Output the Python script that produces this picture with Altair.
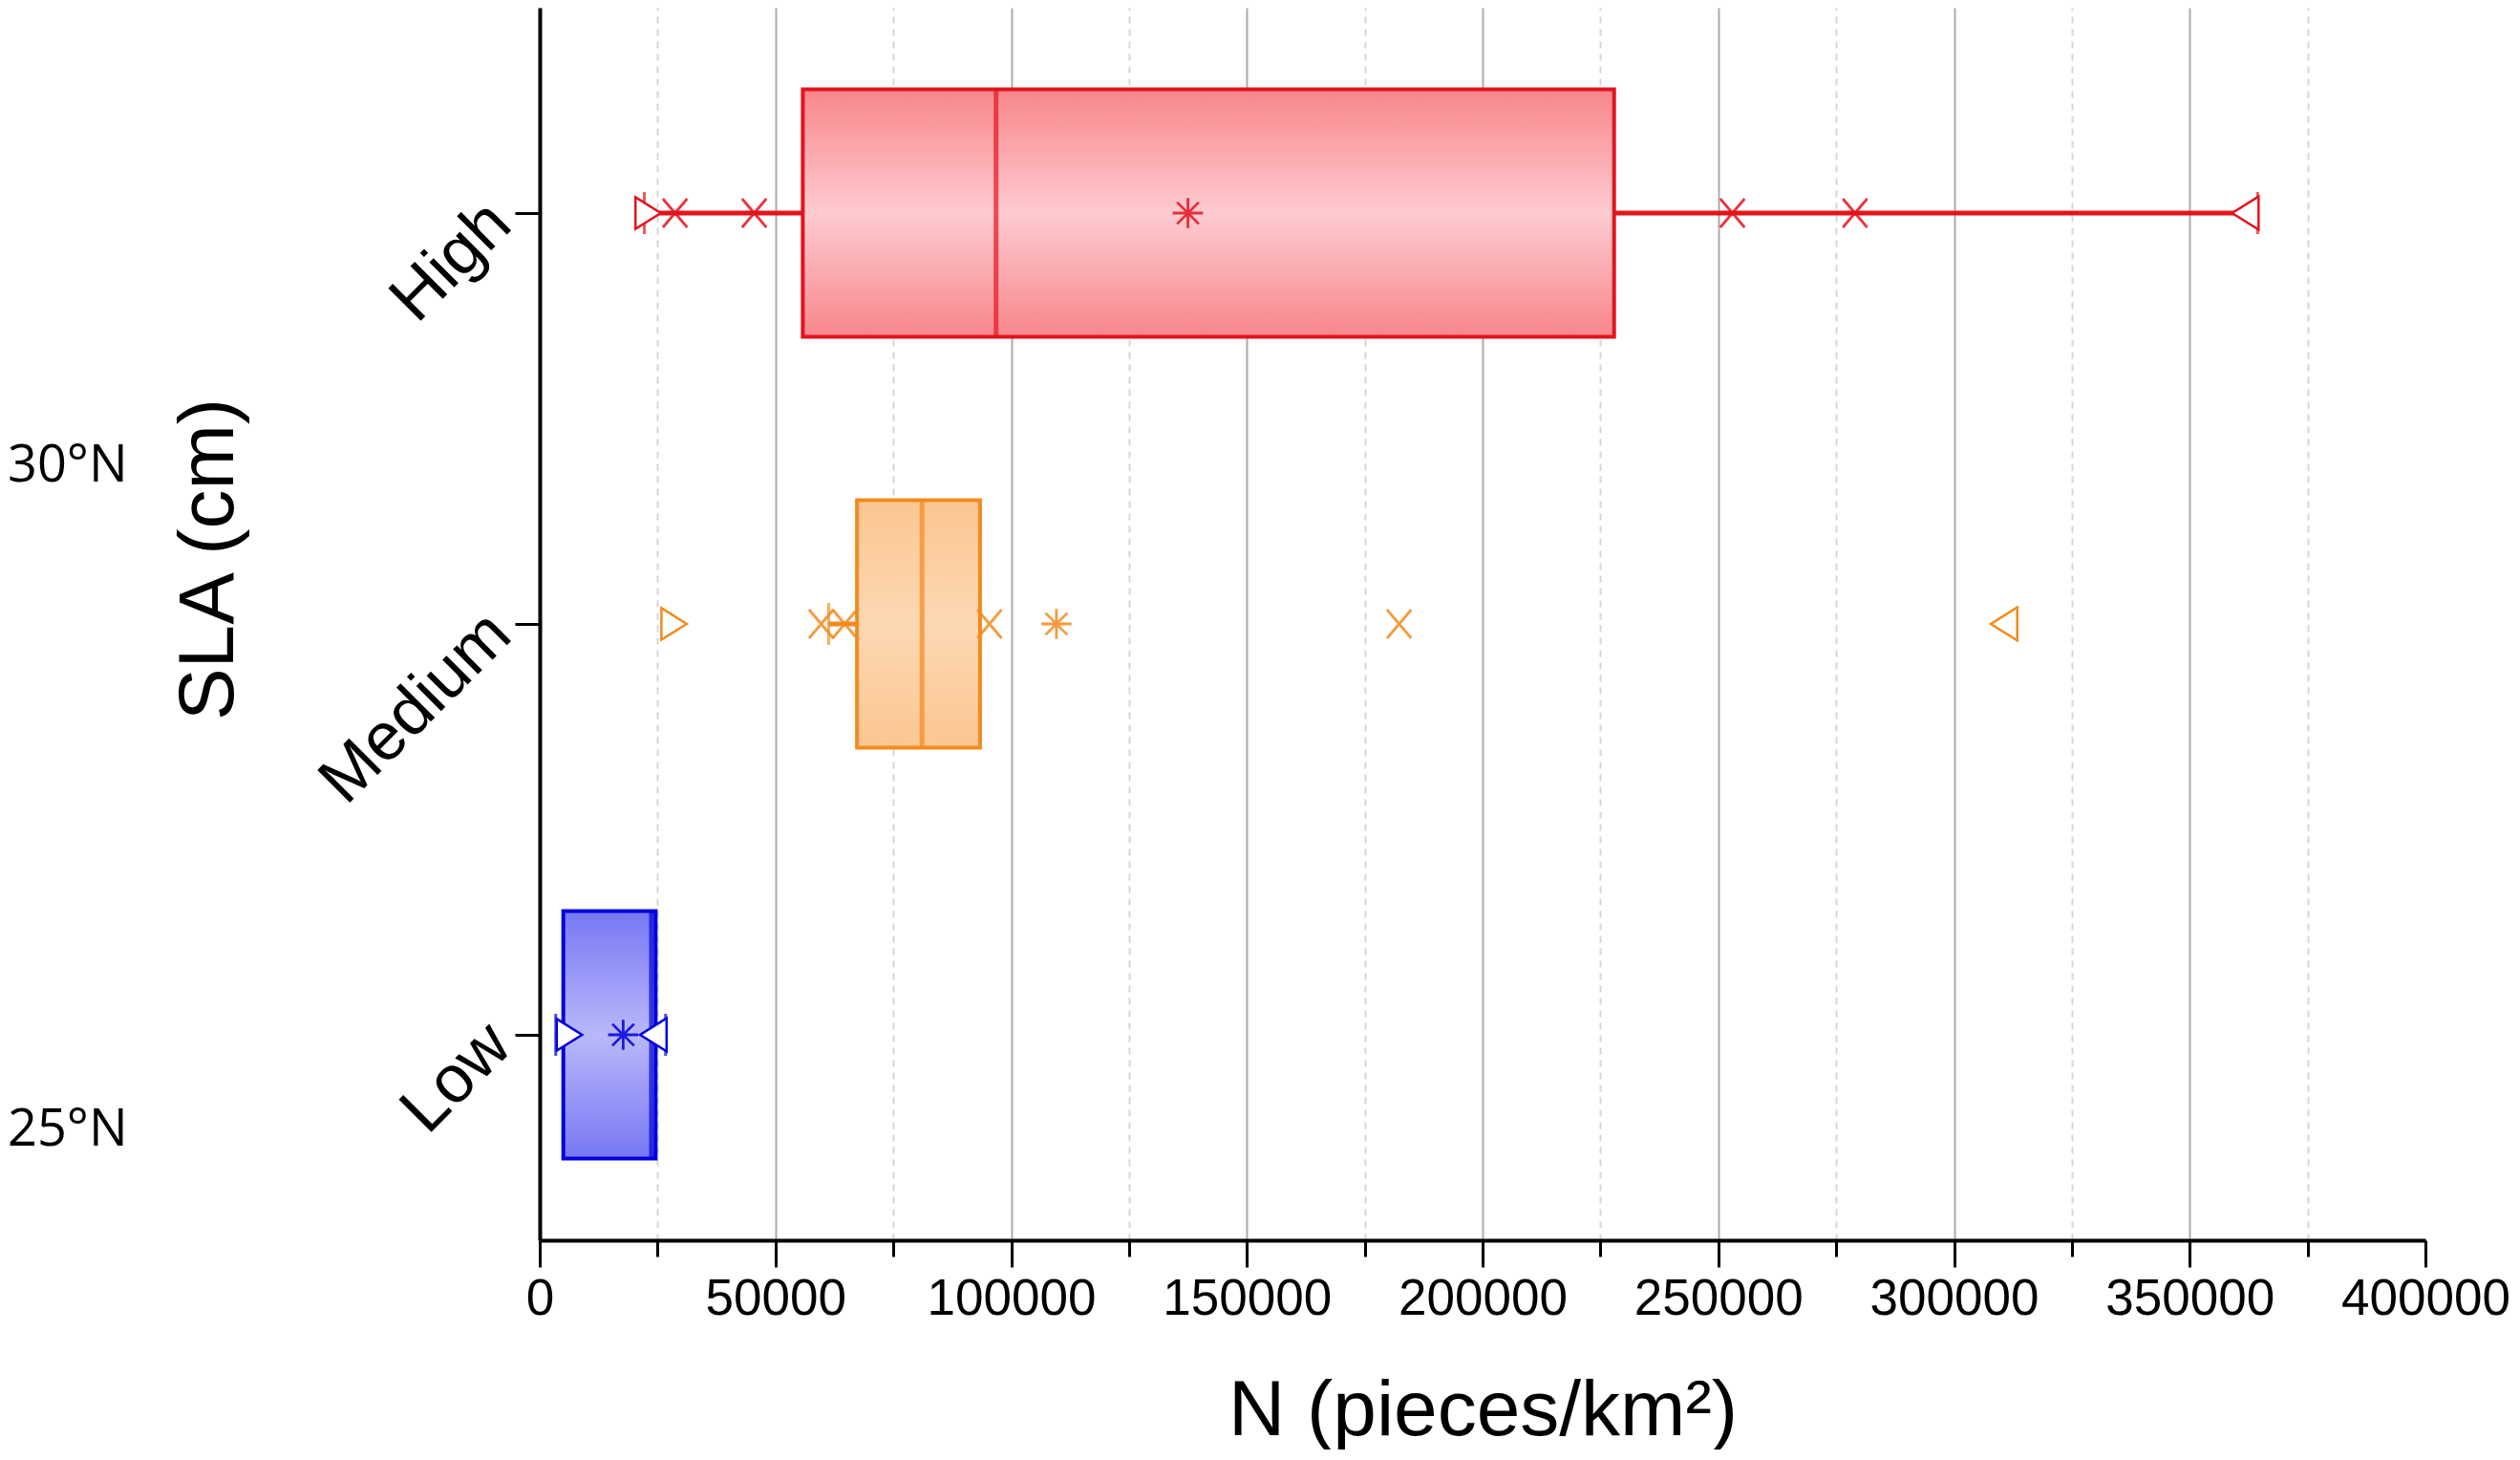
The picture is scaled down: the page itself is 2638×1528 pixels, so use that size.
import altair as alt
import pandas as pd

# ---- data ----
categories = ["High", "Medium", "Low"]
q1 = [55800, 67300, 5000]
median = [96800, 81100, 23700]
q3 = [227900, 93400, 24600]
whisker_lo = [22200, 61300, 3400]
whisker_hi = [364400, 93400, 26700]
mean_val = [137500, 109600, 17700]
min_marker = [23000, 28500, 6300]
max_marker = [361800, 310600, 24100]
pct_cat = ["High", "High", "High", "High", "Medium", "Medium", "Medium", "Medium"]
pct_val = [28700, 45500, 253000, 279000, 59700, 64700, 95400, 182300]
lat_labels = ["30°N", "25°N"]
x_ticks = [0, 25000, 50000, 75000, 100000, 125000, 150000, 175000, 200000,
           225000, 250000, 275000, 300000, 325000, 350000, 375000, 400000]

# ---- styles ----
RED, ORANGE, BLUE = "#E3141E", "#F48A1E", "#0000DC"
stroke_colors = [RED, ORANGE, BLUE]
grad_stops = [
    ("#F8868B", "#FDCBD0"),
    ("#FBC692", "#FDD8B3"),
    ("#7777F4", "#B8B8FA"),
]
FONT = "Liberation Sans"
BOX_H = 259

boxes = pd.DataFrame({
    "cat": categories, "q1": q1, "median": median, "q3": q3,
    "wlo": whisker_lo, "whi": whisker_hi,
})
tri = pd.DataFrame({
    "cat": categories + categories,
    "value": min_marker + max_marker,
    "kind": ["min"] * 3 + ["max"] * 3,
})
opn = pd.DataFrame({
    "cat": pct_cat + categories,
    "value": pct_val + mean_val,
    "kind": ["pct"] * len(pct_val) + ["mean"] * 3,
})

xscale = alt.Scale(domain=[0, 400000], nice=False, zero=True)
yscale = alt.Scale(type="band", domain=categories, paddingInner=0, paddingOuter=0)
cscale = alt.Scale(domain=categories, range=stroke_colors)

cross_path = "M-0.85,-1L0.85,1M0.85,-1L-0.85,1"
star_path = "M0,-1L0,1M-1,0L1,0M-0.72,-0.72L0.72,0.72M0.72,-0.72L-0.72,0.72"
tr_right = "M-0.8,-1L0.8,0L-0.8,1Z"
tr_left = "M0.8,-1L-0.8,0L0.8,1Z"
shape_scale = alt.Scale(domain=["pct", "mean", "min", "max"],
                        range=[cross_path, star_path, tr_right, tr_left])
size_scale = alt.Scale(domain=["pct", "mean", "min", "max"], range=[900, 1200, 1000, 1000])

xaxis = alt.Axis(
    values=x_ticks, format="d",
    labelExpr="datum.value % 50000 === 0 ? datum.label : ''",
    labelFlush=False, labelOverlap=False, labelLimit=0,
    labelFontSize=53, labelFont=FONT, labelColor="black", labelPadding=7,
    tickColor="black", tickWidth=3,
    tickSize={"condition": {"test": "datum.value % 50000 !== 0", "value": 17}, "value": 28},
    domainColor="black", domainWidth=4,
    grid=True,
    gridColor={"condition": {"test": "datum.value % 50000 === 0", "value": "#ababab"}, "value": "#d6d6d6"},
    gridDash={"condition": {"test": "datum.value % 50000 !== 0", "value": [7, 6]}, "value": []},
    gridWidth=2,
    gridOpacity={"condition": {"test": "datum.value <= 0 || datum.value >= 400000", "value": 0}, "value": 1},
    titleFontSize=82, titleFont=FONT, titleFontWeight="normal", titleColor="black",
    titlePadding=50,
)
yaxis = alt.Axis(
    labelAngle=-45, labelAlign="right", labelBaseline="middle", labelLimit=0,
    labelFontSize=70, labelFont=FONT, labelColor="black", labelPadding=16,
    tickColor="black", tickWidth=3, tickSize=26,
    domainColor="black", domainWidth=4, grid=False,
    titleFontSize=82, titleFont=FONT, titleFontWeight="normal", titleColor="black",
    titleAngle=-90, titleX=-347, titleY=577, titleAlign="center", titleBaseline="middle",
)

XT = "N (pieces/km²)"
YT = "SLA (cm)"


def X(field):
    return alt.X(f"{field}:Q", scale=xscale, axis=xaxis, title=XT)


Y = alt.Y("cat:N", scale=yscale, axis=yaxis, title=YT)
S = alt.Stroke("cat:N", scale=cscale, legend=None)
C = alt.Color("cat:N", scale=cscale, legend=None)
SH = alt.Shape("kind:N", scale=shape_scale, legend=None)
SZ = alt.Size("kind:N", scale=size_scale, legend=None)

layers = []

# whiskers and caps
layers.append(alt.Chart(boxes).mark_rule(strokeWidth=5).encode(
    x=X("wlo"), x2="whi", y=Y, color=C))
for f in ["wlo", "whi"]:
    layers.append(alt.Chart(boxes).mark_tick(size=44, thickness=3).encode(
        x=X(f), y=Y, color=C))

# boxes with gradient fill
for c, col, (edge, mid) in zip(categories, stroke_colors, grad_stops):
    grad = {
        "gradient": "linear", "x1": 0, "y1": 0, "x2": 0, "y2": 1,
        "stops": [
            {"offset": 0, "color": edge},
            {"offset": 0.5, "color": mid},
            {"offset": 1, "color": edge},
        ],
    }
    layers.append(
        alt.Chart(boxes).transform_filter(alt.datum.cat == c)
        .mark_bar(size=BOX_H, fill=grad, stroke=col, strokeWidth=4)
        .encode(x=X("q1"), x2="q3", y=Y)
    )

# medians
layers.append(alt.Chart(boxes).mark_tick(size=BOX_H, thickness=5).encode(
    x=X("median"), y=Y, color=C))

# open markers (percentile crosses, mean asterisks)
layers.append(alt.Chart(opn).mark_point(filled=False, strokeWidth=2.8, opacity=0.85).encode(
    x=X("value"), y=Y, stroke=S, shape=SH, size=SZ))

# min / max triangles (white filled)
layers.append(alt.Chart(tri).mark_point(filled=False, fill="white", fillOpacity=1, strokeWidth=2.5).encode(
    x=X("value"), y=Y, stroke=S, shape=SH, size=SZ))

# latitude annotations
for lab, ypix in zip(lat_labels, [480, 1175]):
    layers.append(
        alt.Chart(pd.DataFrame({"label": [lab]}))
        .mark_text(align="left", baseline="middle", font="Open Sans", fontSize=54, color="black")
        .encode(x=alt.value(-557), y=alt.value(ypix), text="label:N")
    )

chart = (
    alt.layer(*layers)
    .properties(width=1974, height=1290, padding=0, background="white")
    .configure_view(stroke=None)
)

chart.save("out.html", embed_options={"renderer": "svg", "actions": False})
